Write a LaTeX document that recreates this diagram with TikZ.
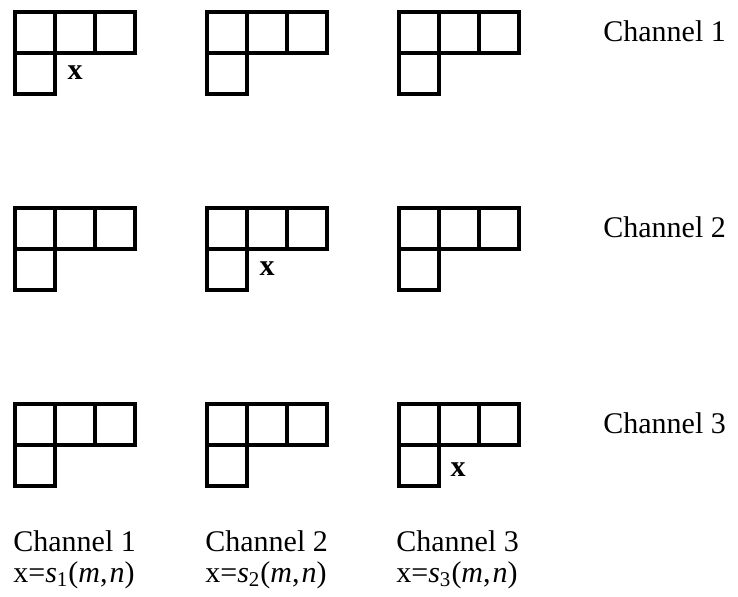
\documentclass[tikz,border=0pt]{standalone}
\usepackage{fontspec}
\setmainfont{Liberation Serif}

\begin{document}
\begin{tikzpicture}[x=0.5pt,y=-0.5pt,
  cell/.style={draw, line width=1.6pt},
  posmark/.style={anchor=base, inner sep=0pt, font=\fontsize{15}{18}\selectfont\bfseries},
  chanlabel/.style={anchor=base west, inner sep=0pt, font=\fontsize{15}{18}\selectfont}]
\useasboundingbox (0,0) rectangle (738,597);

% 3x3 array of L-shaped supports
\foreach \c in {0,1,2}{
  \foreach \r in {0,1,2}{
    \begin{scope}[shift={(15+192*\c,12+196*\r)}]
      \draw[cell] (0,0) rectangle (120,41);
      \draw[cell] (40,0) -- (40,82) -- (0,82) -- (0,41);
      \draw[cell] (80,0) -- (80,41);
    \end{scope}
  }
}

% current pixel positions
\node[posmark] (x1) at (75,80) {x};
\node[posmark] (x2) at (267,276) {x};
\node[posmark] (x3) at (458,477) {x};

% channel names on the right
\node[chanlabel] (right1) at (603,42) {Channel 1};
\node[chanlabel] (right2) at (603,238) {Channel 2};
\node[chanlabel] (right3) at (603,434) {Channel 3};

% channel names below
\node[chanlabel] (bot1) at (13,552) {Channel 1};
\node[chanlabel] (bot2) at (205,552) {Channel 2};
\node[chanlabel] (bot3) at (396,552) {Channel 3};
\node[chanlabel] (sig1) at (13,582) {x=\textit{s}\textsubscript{1}(\textit{m},\kern1pt\textit{n})};
\node[chanlabel] (sig2) at (205,582) {x=\textit{s}\textsubscript{2}(\textit{m},\kern1pt\textit{n})};
\node[chanlabel] (sig3) at (396,582) {x=\textit{s}\textsubscript{3}(\textit{m},\kern1pt\textit{n})};
\end{tikzpicture}
\end{document}
